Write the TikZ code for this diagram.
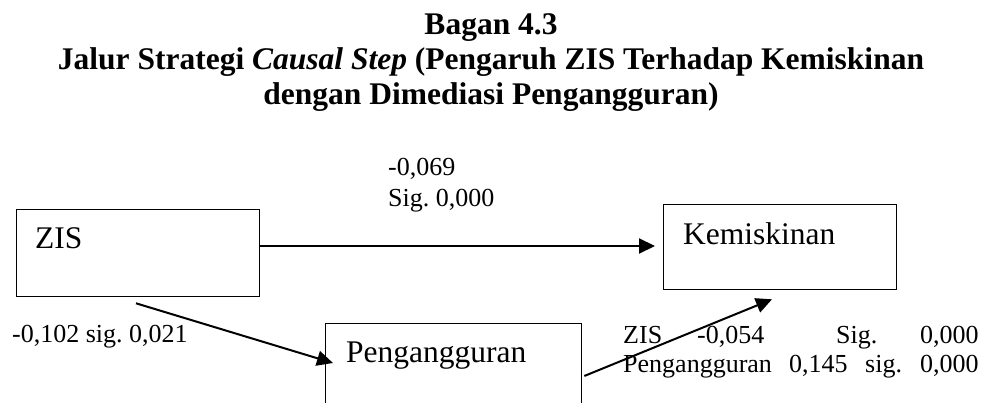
\documentclass[tikz,border=0pt]{standalone}
\usepackage{fontspec}
\setmainfont{Liberation Serif}
\frenchspacing
\usetikzlibrary{arrows.meta}
\tikzset{
  box/.style={draw, line width=1.3pt, rectangle, inner sep=0pt, anchor=north west},
  boxtext/.style={inner sep=0pt, anchor=base west, font=\fontsize{31.5}{36}\selectfont},
  lbl/.style={inner sep=0pt, anchor=base west, font=\fontsize{26}{30}\selectfont},
  ttl/.style={inner sep=0pt, anchor=base, font=\bfseries\fontsize{31.5}{35}\selectfont},
  conn/.style={line width=2pt, -{Triangle[length=16pt,width=15pt]}}
}
\begin{document}
\begin{tikzpicture}[x=1pt,y=-1pt]
\useasboundingbox (0,0) rectangle (981,403);
\clip (0,0) rectangle (981,403);
% title
\node[ttl] (t1) at (491,35) {Bagan 4.3};
\node[ttl] (t2) at (491,70) {Jalur Strategi \textit{Causal Step} (Pengaruh ZIS Terhadap Kemiskinan};
\node[ttl] (t3) at (491,105) {dengan Dimediasi Pengangguran)};
% boxes
\node[box, minimum width=243pt, minimum height=87pt] (zis) at (16,209) {};
\node[box, minimum width=233pt, minimum height=85pt] (kem) at (663,204) {};
\node[box, minimum width=256pt, minimum height=100pt] (peng) at (325,323) {};
\node[boxtext] (zist) at (35,248) {ZIS};
\node[boxtext] (kemt) at (683,244) {Kemiskinan};
\node[boxtext] (pengt) at (346,362) {Pengangguran};
% connectors
\draw[conn] ([yshift=-37pt]zis.north east) -- ([xshift=-8pt,yshift=-42pt]kem.north west);
\draw[conn] ([xshift=120pt,yshift=-6pt]zis.south west) -- ([xshift=8pt,yshift=-40pt]peng.north west);
\draw[conn] ([xshift=2pt,yshift=-53pt]peng.north east) -- ([xshift=109pt,yshift=-9pt]kem.south west);
% labels
\node[lbl] (l1a) at (388,176) {-0,069};
\node[lbl] (l1b) at (388,207) {Sig. 0,000};
\node[lbl] (l2) at (12,342) {-0,102 sig. 0,021};
\node[lbl] (r1a) at (623,343) {ZIS};
\node[lbl] (r1b) at (697,343) {-0,054};
\node[lbl] (r1c) at (836,343) {Sig.};
\node[lbl] (r1d) at (920,343) {0,000};
\node[lbl] (r2a) at (623,372) {Pengangguran};
\node[lbl] (r2b) at (789,372) {0,145};
\node[lbl] (r2c) at (865,372) {sig.};
\node[lbl] (r2d) at (920,372) {0,000};
\end{tikzpicture}
\end{document}
